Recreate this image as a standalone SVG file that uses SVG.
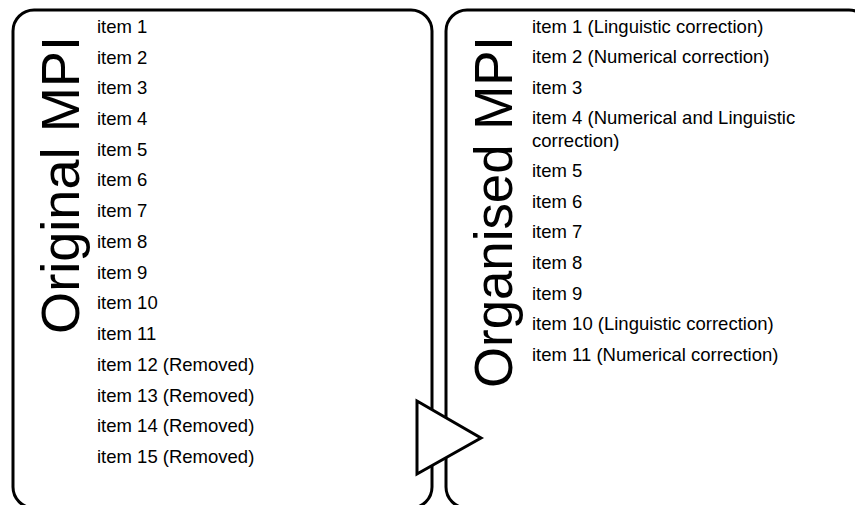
<svg xmlns="http://www.w3.org/2000/svg" width="855" height="505" viewBox="0 0 855 505">
<style>
.box{fill:#fff;stroke:#000;stroke-width:3}
.title{font-family:"Liberation Sans",Arial,sans-serif;font-size:54px;fill:#000}
.item{font-family:"Liberation Sans",Arial,sans-serif;font-size:18.5px;fill:#000}
</style>
<rect width="855" height="505" fill="#fff"/>
<g id="original">
<rect class="box" x="13" y="10" width="419" height="498" rx="21"/>
<text class="title" transform="translate(79,334) rotate(-90)" textLength="298" lengthAdjust="spacingAndGlyphs">Original MPI</text>
<text class="item" x="97" y="33">item 1</text>
<text class="item" x="97" y="64">item 2</text>
<text class="item" x="97" y="94">item 3</text>
<text class="item" x="97" y="125">item 4</text>
<text class="item" x="97" y="156">item 5</text>
<text class="item" x="97" y="186">item 6</text>
<text class="item" x="97" y="217">item 7</text>
<text class="item" x="97" y="248">item 8</text>
<text class="item" x="97" y="279">item 9</text>
<text class="item" x="97" y="309">item 10</text>
<text class="item" x="97" y="340">item 11</text>
<text class="item" x="97" y="371">item 12 (Removed)</text>
<text class="item" x="97" y="402">item 13 (Removed)</text>
<text class="item" x="97" y="432">item 14 (Removed)</text>
<text class="item" x="97" y="463">item 15 (Removed)</text>
</g>
<g id="organised">
<rect class="box" x="446" y="10" width="424" height="498" rx="21"/>
<text class="title" transform="translate(512,388) rotate(-90)" textLength="352" lengthAdjust="spacingAndGlyphs">Organised MPI</text>
<text class="item" x="532" y="33">item 1 (Linguistic correction)</text>
<text class="item" x="532" y="63">item 2 (Numerical correction)</text>
<text class="item" x="532" y="94">item 3</text>
<text class="item" x="532" y="124">item 4 (Numerical and Linguistic</text>
<text class="item" x="532" y="147">correction)</text>
<text class="item" x="532" y="177">item 5</text>
<text class="item" x="532" y="208">item 6</text>
<text class="item" x="532" y="238">item 7</text>
<text class="item" x="532" y="269">item 8</text>
<text class="item" x="532" y="300">item 9</text>
<text class="item" x="532" y="330">item 10 (Linguistic correction)</text>
<text class="item" x="532" y="361">item 11 (Numerical correction)</text>
</g>
<g id="connectors">
<polygon class="box" points="417,401 481,438 417,474" stroke-linejoin="miter"/>
</g>
</svg>
